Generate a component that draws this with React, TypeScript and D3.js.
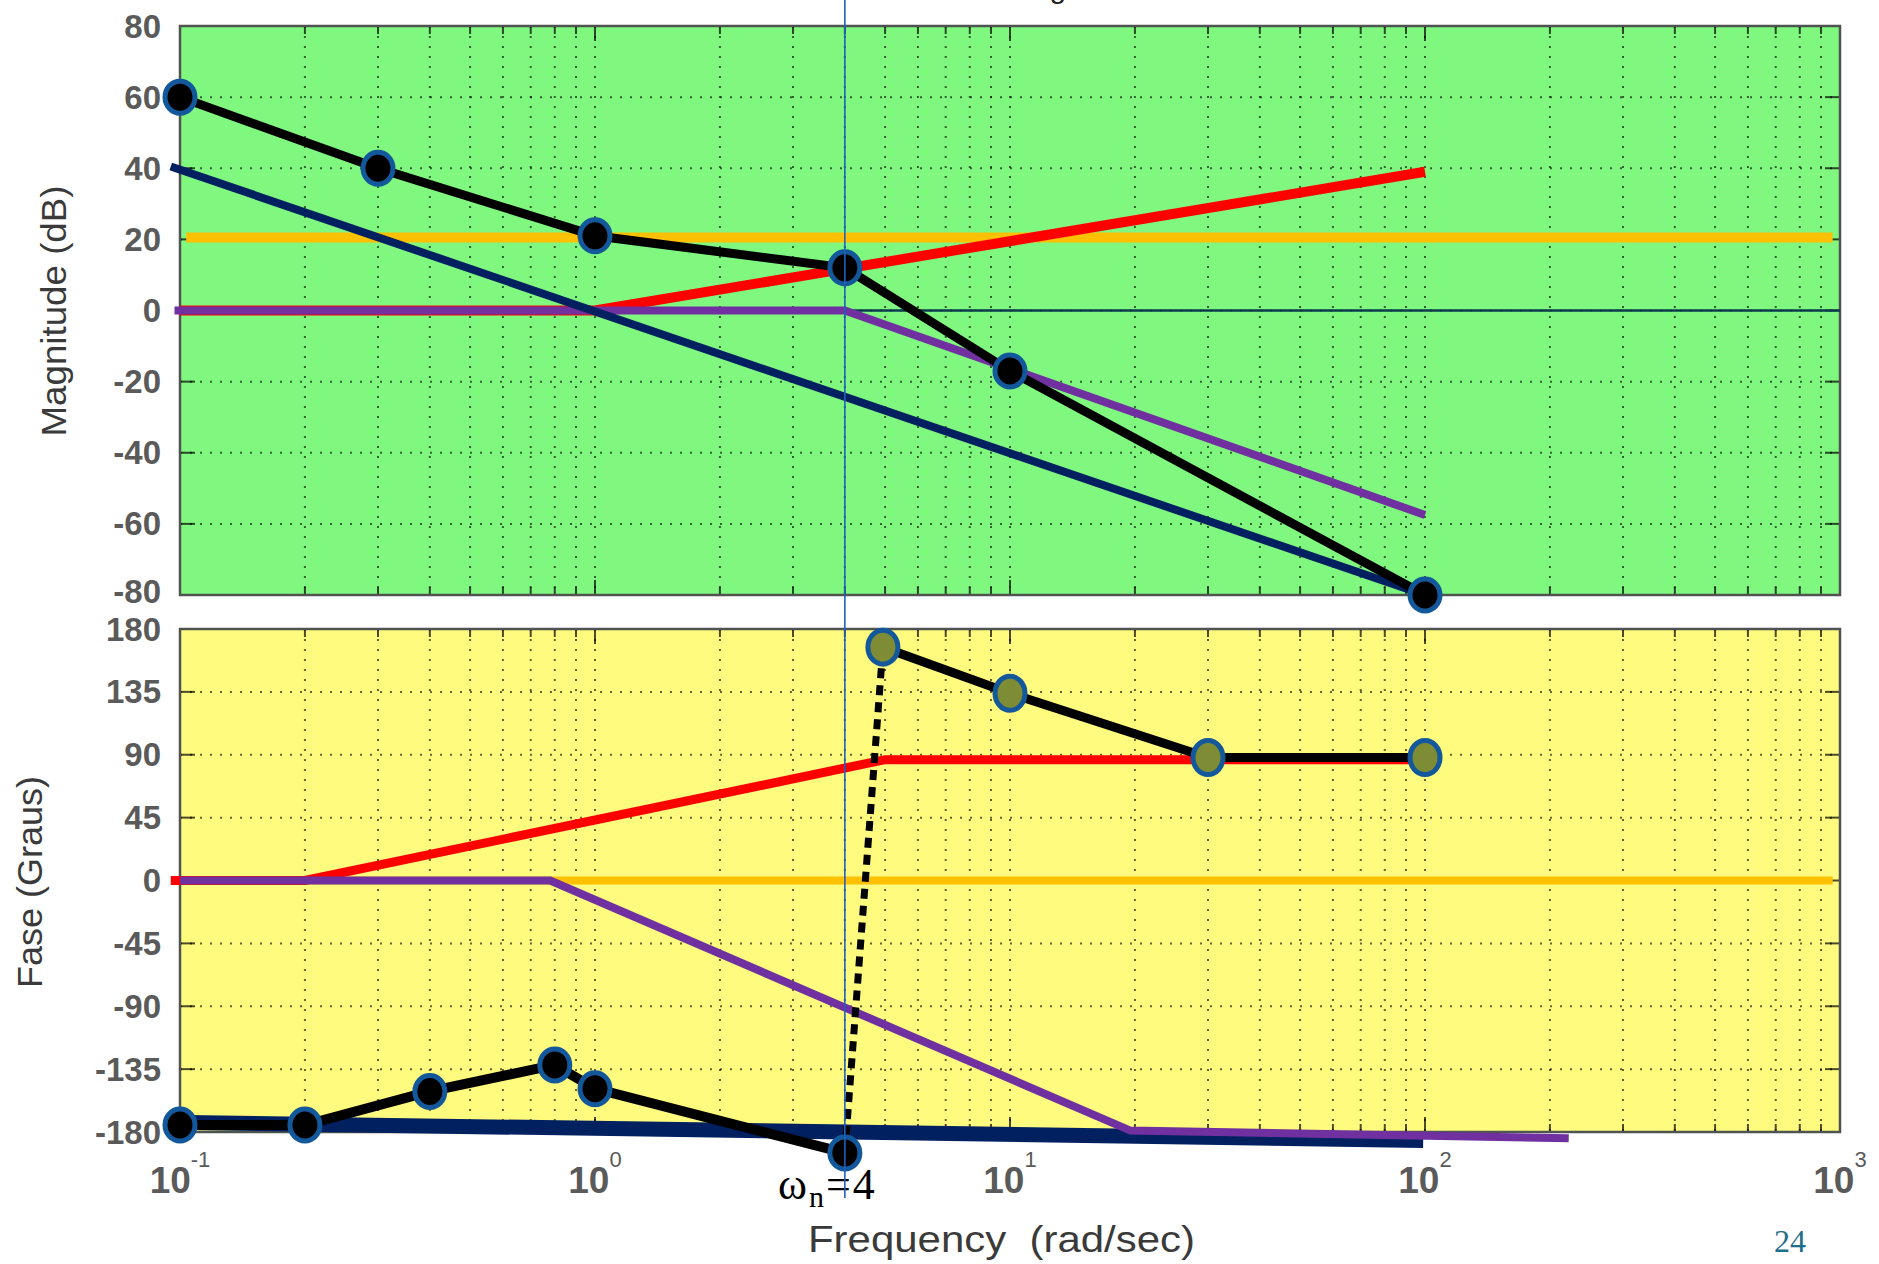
import React from "react";
import * as d3 from "d3";

type Pt = [number, number];

// Axis ranges and tick values
const freqDomain: [number, number] = [0.1, 1000];
const magDomain: [number, number] = [-80, 80];
const phaseDomain: [number, number] = [-180, 180];
const magTicks = [80, 60, 40, 20, 0, -20, -40, -60, -80];
const phaseTicks = [180, 135, 90, 45, 0, -45, -90, -135, -180];
const decadeExponents = [-1, 0, 1, 2, 3];
const wn = 4;

// Magnitude asymptotes (rad/s, dB)
const magGain: Pt[] = [[0.1035, 20.5], [960, 20.5]];
const magZero: Pt[] = [[0.1, 0], [1, 0], [100, 39]];
const magSecondOrder: Pt[] = [[0.097, 0], [4, 0], [100, -57.5]];
const magIntegrators: Pt[] = [[0.095, 40.5], [100, -80]];
const magTotal: Pt[] = [[0.1, 60], [0.3, 40], [1, 21], [4, 12], [10, -17], [100, -80]];

// Phase asymptotes (rad/s, degrees)
const phaseGain: Pt[] = [[0.1, 0], [960, 0]];
const phaseZero: Pt[] = [[0.095, 0], [0.2, 0], [5, 86.5], [100, 86.5]];
const phaseSecondOrder: Pt[] = [[0.1, 0], [0.78, 0], [19.5, -179], [222, -184.5]];
const phaseIntegrators: Pt[] = [[0.095, -173], [99, -186]];
const phaseTotalLow: Pt[] = [[0.1, -175], [0.2, -175], [0.4, -151], [0.8, -132], [1, -149], [4, -195]];
const phaseJump: Pt[] = [[4, -195], [4.94, 167]];
const phaseTotalHigh: Pt[] = [[4.94, 167], [10, 134], [30, 88], [100, 88]];

const W = 1879;
const H = 1264;
const X0 = 180;
const X1 = 1840;
const MAG_TOP = 26;
const MAG_BOT = 595;
const PH_TOP = 629;
const PH_BOT = 1132;

const COLORS = {
  green: "#80f77f",
  yellow: "#fffb7e",
  orange: "#ffc000",
  red: "#ff0000",
  purple: "#7030a0",
  navy: "#002060",
  black: "#000000",
  dotStroke: "#14589c",
  olive: "#7d8c35",
  marker: "#2060c0",
  tick: "#5a5a5a",
};

const x = d3.scaleLog().domain(freqDomain).range([X0, X1]);
const yMag = d3.scaleLinear().domain(magDomain).range([MAG_BOT, MAG_TOP]);
const yPh = d3.scaleLinear().domain(phaseDomain).range([PH_BOT, PH_TOP]);

const minorFreqs: number[] = [];
decadeExponents.slice(0, -1).forEach((e) => {
  for (let k = 2; k <= 9; k++) minorFreqs.push(k * Math.pow(10, e));
});
const majorFreqs = decadeExponents.map((e) => Math.pow(10, e));

function Panel({
  y,
  ticks,
  top,
  bottom,
  fill,
}: {
  y: d3.ScaleLinear<number, number>;
  ticks: number[];
  top: number;
  bottom: number;
  fill: string;
}) {
  const grid = "rgba(0,0,0,0.6)";
  return (
    <g>
      <rect x={X0} y={top} width={X1 - X0} height={bottom - top} fill={fill} />
      {[...minorFreqs, ...majorFreqs.slice(1, -1)].map((f, i) => (
        <line
          key={"vg" + i}
          x1={x(f)}
          x2={x(f)}
          y1={top}
          y2={bottom}
          stroke={grid}
          strokeWidth={2}
          strokeDasharray="2 8"
        />
      ))}
      {ticks.slice(1, -1).map((t) => (
        <line
          key={"hg" + t}
          x1={X0}
          x2={X1}
          y1={y(t)}
          y2={y(t)}
          stroke={grid}
          strokeWidth={2}
          strokeDasharray="2 8"
        />
      ))}
      {minorFreqs.map((f, i) => (
        <g key={"mt" + i} stroke="rgba(0,0,0,0.7)" strokeWidth={2}>
          <line x1={x(f)} x2={x(f)} y1={top} y2={top + 8} />
          <line x1={x(f)} x2={x(f)} y1={bottom} y2={bottom - 8} />
        </g>
      ))}
      {majorFreqs.map((f, i) => (
        <g key={"Mt" + i} stroke="rgba(0,0,0,0.7)" strokeWidth={2}>
          <line x1={x(f)} x2={x(f)} y1={top} y2={top + 15} />
          <line x1={x(f)} x2={x(f)} y1={bottom} y2={bottom - 15} />
        </g>
      ))}
      {ticks.map((t) => (
        <g key={"yt" + t} stroke="rgba(0,0,0,0.7)" strokeWidth={2}>
          <line x1={X0} x2={X0 + 15} y1={y(t)} y2={y(t)} />
          <line x1={X1} x2={X1 - 15} y1={y(t)} y2={y(t)} />
        </g>
      ))}
      <rect
        x={X0}
        y={top}
        width={X1 - X0}
        height={bottom - top}
        fill="none"
        stroke="#4f5450"
        strokeWidth={2.5}
      />
      {ticks.map((t, i) => (
        <text
          key={"yl" + t}
          x={161}
          y={y(t) + (i === ticks.length - 1 && top < 300 ? -4 : 0)}
          textAnchor="end"
          dominantBaseline="central"
          fontFamily="'Liberation Sans', Arial, sans-serif"
          fontWeight="bold"
          fontSize={33}
          fill={COLORS.tick}
        >
          {t}
        </text>
      ))}
    </g>
  );
}

function Series({
  data,
  y,
  color,
  width,
  dash,
}: {
  data: Pt[];
  y: d3.ScaleLinear<number, number>;
  color: string;
  width: number;
  dash?: string;
}) {
  const path = d3
    .line<Pt>()
    .x((d) => x(d[0]))
    .y((d) => y(d[1]))(data);
  return (
    <path
      d={path || ""}
      fill="none"
      stroke={color}
      strokeWidth={width}
      strokeDasharray={dash}
      strokeLinejoin="miter"
      strokeLinecap="butt"
    />
  );
}

function Dots({
  data,
  y,
  fill,
  rx,
  ry,
}: {
  data: Pt[];
  y: d3.ScaleLinear<number, number>;
  fill: string;
  rx: number;
  ry: number;
}) {
  return (
    <g>
      {data.map((d, i) => (
        <ellipse
          key={i}
          cx={x(d[0])}
          cy={y(d[1])}
          rx={rx}
          ry={ry}
          fill={fill}
          stroke={COLORS.dotStroke}
          strokeWidth={5}
        />
      ))}
    </g>
  );
}

export default function App() {
  const xw = x(wn);
  return (
    <svg
      width={W}
      height={H}
      viewBox={`0 0 ${W} ${H}`}
      style={{ position: "absolute", left: 0, top: 0, background: "#ffffff" }}
    >
      <text
        x={1022}
        y={-2}
        textAnchor="middle"
        fontFamily="'Liberation Sans', Arial, sans-serif"
        fontSize={30}
        fill="#222"
      >
        Bode Diagram
      </text>

      {/* Magnitude panel */}
      <Panel y={yMag} ticks={magTicks} top={MAG_TOP} bottom={MAG_BOT} fill={COLORS.green} />
      <line x1={X0} x2={X1} y1={yMag(0)} y2={yMag(0)} stroke="#0b3b4c" strokeWidth={2.5} />
      <Series data={magGain} y={yMag} color={COLORS.orange} width={10} />
      <Series data={magZero} y={yMag} color={COLORS.red} width={10} />
      <Series data={magSecondOrder} y={yMag} color={COLORS.purple} width={8} />
      <Series data={magIntegrators} y={yMag} color={COLORS.navy} width={8} />
      <Series data={magTotal} y={yMag} color={COLORS.black} width={9} />
      <Dots data={magTotal} y={yMag} fill={COLORS.black} rx={15} ry={16} />

      {/* Phase panel */}
      <Panel y={yPh} ticks={phaseTicks} top={PH_TOP} bottom={PH_BOT} fill={COLORS.yellow} />
      <Series data={phaseGain} y={yPh} color={COLORS.orange} width={8} />
      <Series data={phaseZero} y={yPh} color={COLORS.red} width={9} />
      <Series data={phaseIntegrators} y={yPh} color={COLORS.navy} width={15} />
      <Series data={phaseSecondOrder} y={yPh} color={COLORS.purple} width={8} />
      <Series data={phaseTotalLow} y={yPh} color={COLORS.black} width={10} />
      <Series data={phaseJump} y={yPh} color={COLORS.black} width={7} dash="10 7" />
      <Series data={phaseTotalHigh} y={yPh} color={COLORS.black} width={9} />
      <Dots data={phaseTotalLow} y={yPh} fill={COLORS.black} rx={15} ry={16} />
      <Dots data={phaseTotalHigh} y={yPh} fill={COLORS.olive} rx={15} ry={17} />

      {/* Frequency tick labels */}
      {decadeExponents.map((e) => (
        <text
          key={"xl" + e}
          x={x(Math.pow(10, e))}
          y={1193}
          textAnchor="middle"
          fontFamily="'Liberation Sans', Arial, sans-serif"
          fontWeight="bold"
          fontSize={37}
          fill={COLORS.tick}
        >
          10
          <tspan dy={-26} fontSize={22} fontWeight="normal">
            {e}
          </tspan>
        </text>
      ))}

      {/* Axis titles */}
      <text
        transform="translate(55,311) rotate(-90)"
        y={11}
        textAnchor="middle"
        fontFamily="'Liberation Sans', Arial, sans-serif"
        fontSize={35}
        textLength={251}
        lengthAdjust="spacingAndGlyphs"
        fill="#3a3a3a"
      >
        Magnitude (dB)
      </text>
      <text
        transform="translate(31,882) rotate(-90)"
        y={11}
        textAnchor="middle"
        fontFamily="'Liberation Sans', Arial, sans-serif"
        fontSize={35}
        textLength={212}
        lengthAdjust="spacingAndGlyphs"
        fill="#3a3a3a"
      >
        Fase (Graus)
      </text>
      <text
        x={808}
        y={1252}
        fontFamily="'Liberation Sans', Arial, sans-serif"
        fontSize={37}
        textLength={387}
        lengthAdjust="spacingAndGlyphs"
        fill="#3a3a3a"
        style={{ whiteSpace: "pre" }}
      >
        {"Frequency  (rad/sec)"}
      </text>

      <text
        x={778}
        y={1199}
        fontFamily="'Liberation Serif', 'DejaVu Serif', serif"
        fontSize={44}
        letterSpacing={2}
        fill="#000"
      >
        ω
        <tspan fontSize={30} dy={8}>
          n
        </tspan>
        <tspan dy={-8}>=4</tspan>
      </text>

      <text
        x={1774}
        y={1252}
        fontFamily="'Liberation Serif', 'DejaVu Serif', serif"
        fontSize={32}
        fill="#1f6f8b"
      >
        24
      </text>

      {/* Natural frequency marker */}
      <line x1={xw} x2={xw} y1={0} y2={1198} stroke={COLORS.marker} strokeWidth={1.6} />
    </svg>
  );
}
